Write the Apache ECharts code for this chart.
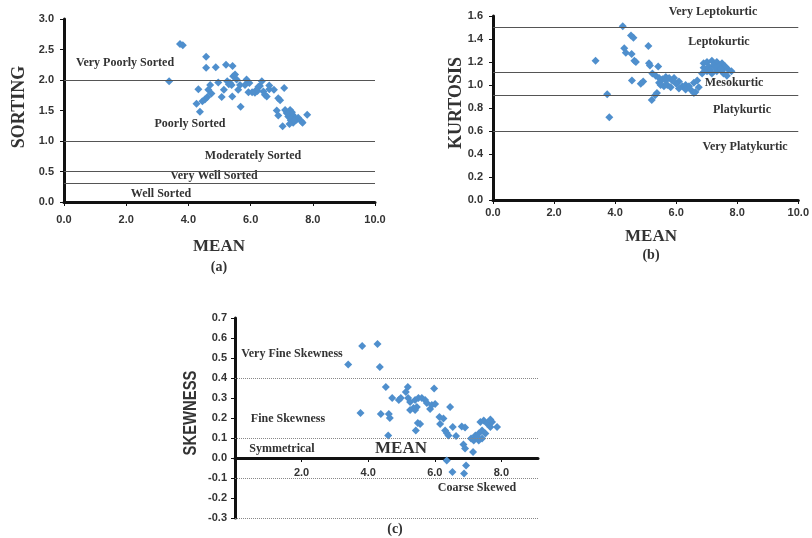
<!DOCTYPE html>
<html>
<head>
<meta charset="utf-8">
<script src="https://cdn.jsdelivr.net/npm/echarts/dist/echarts.min.js"></script>
<style>
html, body { margin: 0; padding: 0; background: #fff; }
#main { width: 812px; height: 538px; }
</style>
</head>
<body>
<div id="main"></div>
<script>
// (a) mean vs sorting
var meanA = [3.73,3.82,3.38,4.57,4.57,4.88,5.21,5.42,4.32,4.26,4.37,4.53,4.61,4.64,4.70,4.96,
  5.07,5.14,5.25,5.34,5.44,5.50,5.55,5.41,5.60,5.66,5.39,5.68,5.82,5.87,5.96,5.93,
  6.14,6.19,6.30,6.36,6.25,6.41,6.46,6.52,6.60,6.60,6.75,6.89,6.95,7.08,6.84,6.89,
  7.03,7.11,7.16,7.27,7.21,7.29,7.35,7.43,7.37,7.53,7.64,7.67,7.82,7.27,7.48,7.25,
  7.20,7.40,7.33,6.22,6.05,5.30,4.74,4.45];
var sortingA = [2.59,2.57,1.98,2.38,2.20,2.21,2.25,2.23,1.85,1.61,1.48,1.68,1.72,1.84,1.92,1.96,
  1.72,1.84,1.98,1.95,2.06,2.09,2.01,1.73,1.84,1.92,1.92,1.56,1.92,2.01,1.95,1.80,
  1.79,1.84,1.90,1.98,1.89,1.81,1.76,1.73,1.91,1.85,1.84,1.70,1.67,1.87,1.50,1.42,
  1.24,1.51,1.46,1.51,1.40,1.34,1.43,1.38,1.30,1.38,1.32,1.30,1.43,1.38,1.35,1.28,
  1.45,1.33,1.47,1.82,1.80,1.93,1.78,1.65];
var sortingLimits = [2.0, 1.0, 0.5, 0.3];

// (b) mean vs kurtosis
var meanB = [4.25,4.52,4.60,5.09,3.36,4.30,4.35,4.54,4.63,4.68,5.11,5.14,5.41,4.55,4.84,4.92,
  5.22,5.33,5.44,5.55,5.66,5.77,5.93,6.09,6.00,6.20,6.31,6.42,6.58,6.69,5.44,5.49,
  5.60,5.71,5.82,6.09,6.31,6.47,6.63,5.66,5.87,5.37,5.31,5.20,3.74,3.81,
  6.90,7.01,7.17,7.33,7.50,7.61,7.72,7.81,7.07,7.23,7.39,7.50,6.90,7.01,7.17,7.33,
  7.55,7.66,6.85,7.12,7.28,7.44,6.74,6.58];
var kurtB = [1.51,1.43,1.41,1.34,1.21,1.32,1.28,1.27,1.21,1.20,1.19,1.17,1.16,1.04,1.01,1.03,
  1.10,1.08,1.06,1.05,1.07,1.06,1.06,1.03,1.01,0.99,1.00,0.99,1.02,1.04,1.02,1.00,
  0.99,1.00,0.98,0.97,0.96,0.96,0.94,1.04,1.04,0.93,0.91,0.87,0.92,0.72,
  1.19,1.20,1.21,1.20,1.19,1.16,1.13,1.12,1.16,1.17,1.16,1.13,1.15,1.12,1.10,1.12,
  1.10,1.08,1.10,1.13,1.15,1.14,0.98,0.93];
var kurtLimits = [1.5, 1.11, 0.91, 0.6];

// (c) mean vs skewness
var meanC = [3.40,3.82,4.28,4.35,3.77,4.38,4.53,4.62,4.65,4.60,4.72,4.92,4.98,5.13,5.19,5.20,
  5.26,5.26,5.36,5.41,5.51,5.61,5.71,5.76,5.46,5.41,5.49,5.56,5.43,5.86,5.91,5.98,
  6.01,6.14,6.26,6.16,6.31,6.36,6.46,6.41,6.54,6.64,6.36,6.53,6.81,6.91,6.86,6.91,
  6.94,6.88,7.09,7.17,7.15,7.22,7.32,7.42,7.37,7.47,7.57,7.67,7.42,7.32,7.27,7.52,
  7.67,7.72,7.87];
var skewC = [0.468,0.56,0.57,0.455,0.225,0.22,0.355,0.22,0.20,0.113,0.30,0.29,0.30,0.33,0.355,0.30,
  0.28,0.24,0.25,0.29,0.30,0.30,0.29,0.275,0.255,0.24,0.175,0.17,0.138,0.245,0.265,0.347,
  0.27,0.205,0.197,0.17,0.138,0.125,0.255,0.113,0.155,0.11,-0.012,-0.07,0.158,0.152,0.067,0.047,
  -0.037,-0.078,0.097,0.088,0.03,0.113,0.122,0.138,0.18,0.188,0.172,0.155,0.097,0.088,0.105,0.122,
  0.192,0.18,0.155];
var skewLimits = [0.4, 0.1, -0.1, -0.3];

function pairs(xs, ys) {
  return xs.map(function (x, i) { return [x, ys[i]]; });
}

var serif = '"Liberation Serif", "DejaVu Serif", serif';
var sans = '"Liberation Sans", Arial, sans-serif';
var dotColor = '#4f8fcd';

function axisX(grid, max, interval, margin, hideZero, offset) {
  return {
    type: 'value', gridIndex: grid, min: 0, max: max, interval: interval,
    offset: offset || 0,
    splitLine: { show: false },
    axisLine: { onZero: false, lineStyle: { color: '#111', width: 3 } },
    axisTick: { show: true, length: 4, lineStyle: { color: '#111', width: 1 } },
    axisLabel: {
      margin: margin, color: '#333', fontFamily: sans, fontWeight: 'bold', fontSize: 11,
      showMaxLabel: !hideZero,
      formatter: function (v) { return (hideZero && v === 0) ? '' : v.toFixed(1); }
    }
  };
}
function axisY(grid, min, max, interval, margin) {
  return {
    type: 'value', gridIndex: grid, min: min, max: max, interval: interval,
    splitLine: { show: false },
    axisLine: { onZero: false, lineStyle: { color: '#111', width: 3 } },
    axisTick: { show: true, length: 4, lineStyle: { color: '#111', width: 1 } },
    axisLabel: {
      margin: margin, color: '#333', fontFamily: sans, fontWeight: 'bold', fontSize: 11,
      formatter: function (v) { return v.toFixed(1); }
    }
  };
}
function limits(values, color, type) {
  return {
    silent: true, symbol: ['none', 'none'], label: { show: false }, animation: false,
    lineStyle: { color: color, width: 1, type: type },
    data: values.map(function (v) { return { yAxis: v }; })
  };
}
function dots(grid, xs, ys, lines) {
  return {
    type: 'scatter', xAxisIndex: grid, yAxisIndex: grid,
    symbol: 'diamond', symbolSize: 8,
    itemStyle: { color: dotColor, opacity: 1 },
    data: pairs(xs, ys), markLine: lines, z: 3
  };
}
function txt(s, x, y, size, family, rot, sx) {
  return {
    type: 'text', x: x, y: y, rotation: rot || 0, scaleX: sx || 1, silent: true,
    style: {
      text: s, fill: '#333', textAlign: 'center', textVerticalAlign: 'middle',
      font: 'bold ' + size + 'px ' + family
    }
  };
}

var myChart = echarts.init(document.getElementById('main'));

var option = {
  animation: false,
  backgroundColor: '#fff',
  grid: [
    { left: 64, top: 19, width: 311, height: 183 },
    { left: 493, top: 16, width: 307, height: 184 },
    { left: 235, top: 318, width: 303, height: 200 }
  ],
  xAxis: [
    axisX(0, 10, 2, 12, false),
    axisX(1, 10, 2, 7, false),
    // the skewness x axis sits on the zero line, 60px above the grid bottom
    axisX(2, 9.1, 2, 9, true, -60)
  ],
  yAxis: [
    axisY(0, 0, 3, 0.5, 10),
    axisY(1, 0, 1.6, 0.2, 10),
    axisY(2, -0.3, 0.7, 0.1, 8)
  ],
  series: [
    dots(0, meanA, sortingA, limits(sortingLimits, '#555', 'solid')),
    dots(1, meanB, kurtB, limits(kurtLimits, '#555', 'solid')),
    dots(2, meanC, skewC, limits(skewLimits, '#888', 'dotted'))
  ],
  graphic: [
    // (a)
    txt('Very Poorly Sorted', 125, 63, 12, serif),
    txt('Poorly Sorted', 190, 124, 12, serif),
    txt('Moderately Sorted', 253, 156, 12, serif),
    txt('Very Well Sorted', 214, 176, 12, serif),
    txt('Well Sorted', 161, 194, 12, serif),
    txt('SORTING', 19, 107, 18, serif, Math.PI / 2),
    txt('MEAN', 219, 247, 17, serif),
    txt('(a)', 219, 267, 14, serif),
    // (b)
    txt('Very Leptokurtic', 713, 12, 12, serif),
    txt('Leptokurtic', 719, 42, 12, serif),
    txt('Mesokurtic', 734, 83, 12, serif),
    txt('Platykurtic', 742, 110, 12, serif),
    txt('Very Platykurtic', 745, 147, 12, serif),
    txt('KURTOSIS', 456, 103, 18, serif, Math.PI / 2),
    txt('MEAN', 651, 237, 17, serif),
    txt('(b)', 651, 255, 14, serif),
    // (c)
    txt('Very Fine Skewness', 292, 354, 12, serif),
    txt('Fine Skewness', 288, 419, 12, serif),
    txt('Symmetrical', 282, 449, 12, serif),
    txt('MEAN', 401, 449, 17, serif),
    txt('Coarse Skewed', 477, 488, 12, serif),
    txt('SKEWNESS', 191, 413, 19, sans, Math.PI / 2, 0.78),
    txt('(c)', 395, 529, 14, serif)
  ]
};

myChart.setOption(option);
</script>
</body>
</html>
